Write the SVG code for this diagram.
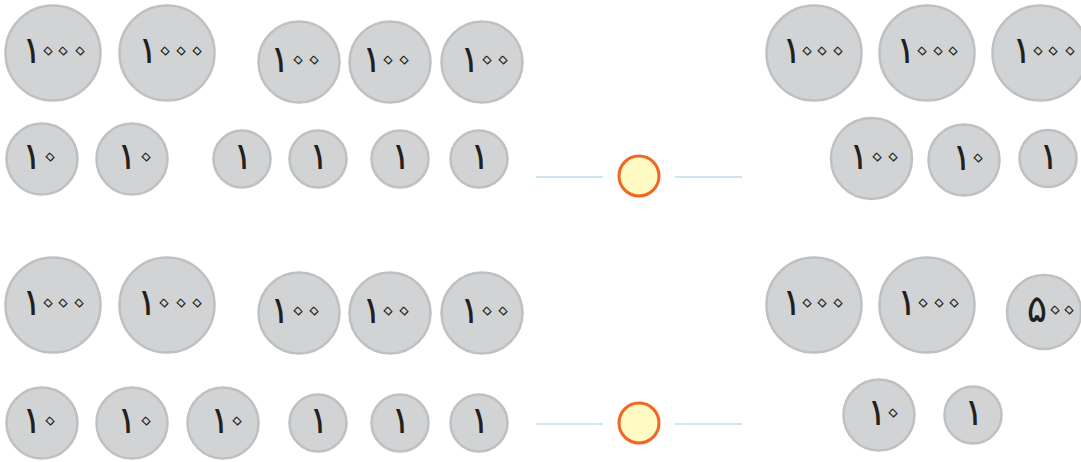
<svg xmlns="http://www.w3.org/2000/svg" width="1081" height="462" viewBox="0 0 1081 462">
<style>
.coin{fill:#d1d3d4;stroke:#bfc0c2;stroke-width:2.5}
.v{font-family:"DejaVu Sans",sans-serif;text-anchor:middle}
.one{font-size:38px;fill:#231f20}
.z{font-family:"Noto Sans Arabic","Noto Naskh Arabic","DejaVu Sans",sans-serif;font-size:48px;fill:#d1d3d4;stroke:#231f20;stroke-width:1.1;stroke-linejoin:round}
.ln{stroke:#bcdcec;stroke-width:1.5;fill:none}
.ans{fill:#fff9c4;stroke:#f26522;stroke-width:3}
</style>
<rect width="1081" height="462" fill="#ffffff"/>
<g id="c1"><circle class="coin" cx="53" cy="53" r="47.5"/><text class="v"><tspan class="one" x="32" y="63">۱</tspan><tspan class="z" x="48 63 80" y="65">۰۰۰</tspan></text></g>
<g id="c2"><circle class="coin" cx="167" cy="53" r="47.5"/><text class="v"><tspan class="one" x="148" y="63">۱</tspan><tspan class="z" x="165 181 197" y="65">۰۰۰</tspan></text></g>
<g id="c3"><circle class="coin" cx="299" cy="62" r="40.5"/><text class="v"><tspan class="one" x="280" y="72">۱</tspan><tspan class="z" x="298 314" y="74">۰۰</tspan></text></g>
<g id="c4"><circle class="coin" cx="390" cy="62" r="40.5"/><text class="v"><tspan class="one" x="372" y="72">۱</tspan><tspan class="z" x="388 404" y="74">۰۰</tspan></text></g>
<g id="c5"><circle class="coin" cx="482" cy="62" r="40.5"/><text class="v"><tspan class="one" x="470" y="72">۱</tspan><tspan class="z" x="487 503" y="74">۰۰</tspan></text></g>
<g id="c6"><circle class="coin" cx="42" cy="159" r="35.5"/><text class="v"><tspan class="one" x="32" y="169">۱</tspan><tspan class="z" x="50" y="171">۰</tspan></text></g>
<g id="c7"><circle class="coin" cx="132" cy="159" r="35.5"/><text class="v"><tspan class="one" x="127" y="169">۱</tspan><tspan class="z" x="146" y="171">۰</tspan></text></g>
<g id="c8"><circle class="coin" cx="242" cy="159" r="28.5"/><text class="v"><tspan class="one" x="243" y="169">۱</tspan></text></g>
<g id="c9"><circle class="coin" cx="318" cy="159" r="28.5"/><text class="v"><tspan class="one" x="319" y="169">۱</tspan></text></g>
<g id="c10"><circle class="coin" cx="400" cy="159" r="28.5"/><text class="v"><tspan class="one" x="401" y="169">۱</tspan></text></g>
<g id="c11"><circle class="coin" cx="479" cy="159" r="28.5"/><text class="v"><tspan class="one" x="480" y="169">۱</tspan></text></g>
<g id="c12"><circle class="coin" cx="814" cy="53" r="47.5"/><text class="v"><tspan class="one" x="792" y="63">۱</tspan><tspan class="z" x="807 822 838" y="65">۰۰۰</tspan></text></g>
<g id="c13"><circle class="coin" cx="927" cy="53" r="47.5"/><text class="v"><tspan class="one" x="906" y="63">۱</tspan><tspan class="z" x="922 938 953" y="65">۰۰۰</tspan></text></g>
<g id="c14"><circle class="coin" cx="1040" cy="53" r="47.5"/><text class="v"><tspan class="one" x="1022" y="63">۱</tspan><tspan class="z" x="1038 1053 1070" y="65">۰۰۰</tspan></text></g>
<g id="c15"><circle class="coin" cx="871.5" cy="158.5" r="40.5"/><text class="v"><tspan class="one" x="859" y="169">۱</tspan><tspan class="z" x="877 893" y="171">۰۰</tspan></text></g>
<g id="c16"><circle class="coin" cx="964" cy="160" r="35.5"/><text class="v"><tspan class="one" x="962" y="170">۱</tspan><tspan class="z" x="978" y="172">۰</tspan></text></g>
<g id="c17"><circle class="coin" cx="1048" cy="158.5" r="28.5"/><text class="v"><tspan class="one" x="1049" y="169">۱</tspan></text></g>
<g id="a1"><circle class="ans" cx="639" cy="176" r="20"/></g>

<g id="d1"><circle class="coin" cx="53" cy="305" r="47.5"/><text class="v"><tspan class="one" x="32" y="315">۱</tspan><tspan class="z" x="48 63 79" y="317">۰۰۰</tspan></text></g>
<g id="d2"><circle class="coin" cx="167" cy="305" r="47.5"/><text class="v"><tspan class="one" x="147" y="315">۱</tspan><tspan class="z" x="164 181 197" y="317">۰۰۰</tspan></text></g>
<g id="d3"><circle class="coin" cx="299" cy="313" r="40.5"/><text class="v"><tspan class="one" x="280" y="323">۱</tspan><tspan class="z" x="298 314" y="325">۰۰</tspan></text></g>
<g id="d4"><circle class="coin" cx="390" cy="313" r="40.5"/><text class="v"><tspan class="one" x="372" y="323">۱</tspan><tspan class="z" x="388 404" y="325">۰۰</tspan></text></g>
<g id="d5"><circle class="coin" cx="482" cy="313" r="40.5"/><text class="v"><tspan class="one" x="470" y="323">۱</tspan><tspan class="z" x="487 503" y="325">۰۰</tspan></text></g>
<g id="d6"><circle class="coin" cx="42" cy="423" r="35.5"/><text class="v"><tspan class="one" x="32" y="433">۱</tspan><tspan class="z" x="50" y="435">۰</tspan></text></g>
<g id="d7"><circle class="coin" cx="132" cy="423" r="35.5"/><text class="v"><tspan class="one" x="127" y="433">۱</tspan><tspan class="z" x="146" y="435">۰</tspan></text></g>
<g id="d8"><circle class="coin" cx="223" cy="423" r="35.5"/><text class="v"><tspan class="one" x="220" y="433">۱</tspan><tspan class="z" x="237" y="435">۰</tspan></text></g>
<g id="d9"><circle class="coin" cx="318" cy="423" r="28.5"/><text class="v"><tspan class="one" x="319" y="433">۱</tspan></text></g>
<g id="d10"><circle class="coin" cx="400" cy="423" r="28.5"/><text class="v"><tspan class="one" x="401" y="433">۱</tspan></text></g>
<g id="d11"><circle class="coin" cx="479" cy="423" r="28.5"/><text class="v"><tspan class="one" x="480" y="433">۱</tspan></text></g>
<g id="d12"><circle class="coin" cx="814" cy="305" r="47.5"/><text class="v"><tspan class="one" x="792" y="315">۱</tspan><tspan class="z" x="807 822 838" y="317">۰۰۰</tspan></text></g>
<g id="d13"><circle class="coin" cx="927" cy="305" r="47.5"/><text class="v"><tspan class="one" x="907" y="315">۱</tspan><tspan class="z" x="923 939 954" y="317">۰۰۰</tspan></text></g>
<g id="d14"><circle class="coin" cx="1044" cy="312" r="37"/><text class="v"><tspan class="one" x="1037" y="322">۵</tspan><tspan class="z" x="1055 1069" y="324">۰۰</tspan></text></g>
<g id="d15"><circle class="coin" cx="879" cy="415" r="35.5"/><text class="v"><tspan class="one" x="877" y="425">۱</tspan><tspan class="z" x="893" y="427">۰</tspan></text></g>
<g id="d16"><circle class="coin" cx="973" cy="415" r="28.5"/><text class="v"><tspan class="one" x="974" y="425">۱</tspan></text></g>
<g id="a2"><circle class="ans" cx="639" cy="423" r="20"/></g>

<g id="connectors">
<line class="ln" x1="536" y1="177" x2="603" y2="177"/>
<line class="ln" x1="675" y1="177" x2="742" y2="177"/>
<line class="ln" x1="536" y1="424" x2="603" y2="424"/>
<line class="ln" x1="675" y1="424" x2="742" y2="424"/>
</g>
</svg>
